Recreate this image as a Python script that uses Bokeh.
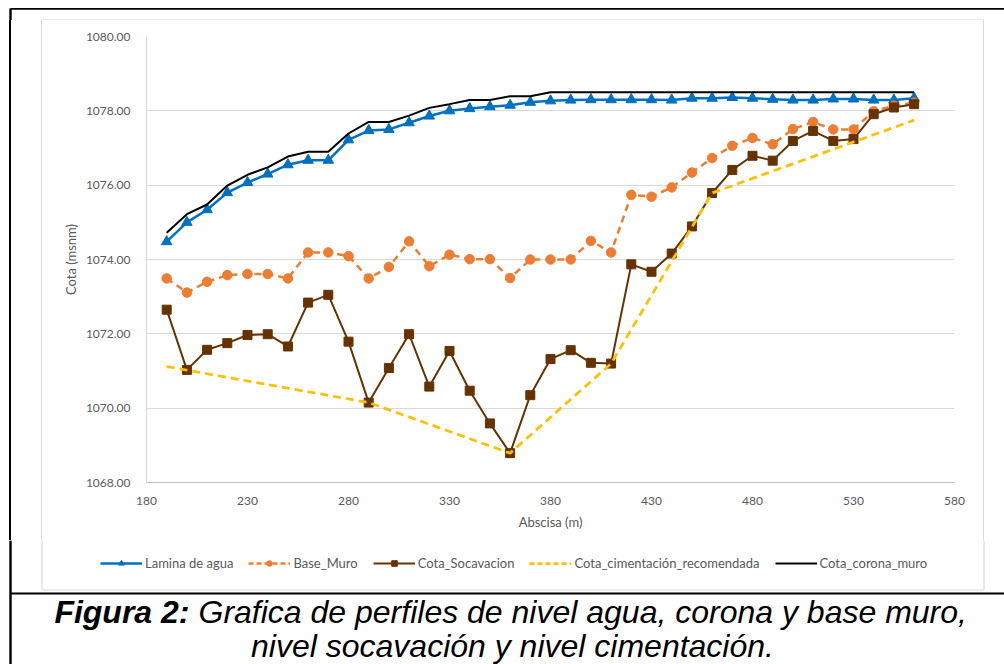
from bokeh.plotting import figure
from bokeh.layouts import column, row
from bokeh.models import (Range1d, FixedTicker, NumeralTickFormatter, Legend, LegendItem, Div)
from bokeh.core.properties import value
from bokeh.embed import file_html
from bokeh.resources import INLINE

# ---------------- data ----------------
abscisa = [190, 200, 210, 220, 230, 240, 250, 260, 270, 280,
           290, 300, 310, 320, 330, 340, 350, 360, 370, 380,
           390, 400, 410, 420, 430, 440, 450, 460, 470, 480,
           490, 500, 510, 520, 530, 540, 550, 560]

lamina_agua = [1074.48, 1075.00, 1075.34, 1075.80, 1076.07, 1076.30, 1076.55, 1076.67, 1076.67, 1077.22,
               1077.47, 1077.50, 1077.68, 1077.86, 1078.00, 1078.06, 1078.11, 1078.15, 1078.23, 1078.27,
               1078.29, 1078.30, 1078.30, 1078.30, 1078.30, 1078.29, 1078.34, 1078.34, 1078.36, 1078.34,
               1078.31, 1078.29, 1078.29, 1078.32, 1078.32, 1078.29, 1078.29, 1078.34]

base_muro = [1073.49, 1073.11, 1073.40, 1073.58, 1073.61, 1073.61, 1073.49, 1074.19, 1074.19, 1074.09,
             1073.49, 1073.80, 1074.49, 1073.82, 1074.13, 1074.01, 1074.01, 1073.50, 1074.00, 1074.00,
             1074.00, 1074.50, 1074.19, 1075.74, 1075.69, 1075.94, 1076.34, 1076.73, 1077.06, 1077.27,
             1077.10, 1077.51, 1077.70, 1077.50, 1077.50, 1077.99, 1078.14, 1078.22]

cota_socavacion = [1072.65, 1071.03, 1071.57, 1071.75, 1071.97, 1071.99, 1071.66, 1072.84, 1073.05, 1071.79,
                   1070.15, 1071.08, 1071.99, 1070.58, 1071.54, 1070.47, 1069.59, 1068.79, 1070.35, 1071.32,
                   1071.56, 1071.22, 1071.20, 1073.87, 1073.67, 1074.16, 1074.89, 1075.79, 1076.41, 1076.79,
                   1076.66, 1077.19, 1077.46, 1077.19, 1077.24, 1077.91, 1078.09, 1078.18]

cim_abscisa = [190, 290, 360, 410, 460, 560]
cota_cimentacion = [1071.12, 1070.15, 1068.79, 1071.20, 1075.79, 1077.75]

cota_corona = [1074.72, 1075.22, 1075.48, 1075.99, 1076.28, 1076.48, 1076.77, 1076.90, 1076.90, 1077.39,
               1077.70, 1077.70, 1077.87, 1078.08, 1078.18, 1078.29, 1078.29, 1078.39, 1078.39, 1078.50,
               1078.50, 1078.50, 1078.50, 1078.50, 1078.50, 1078.50, 1078.50, 1078.50, 1078.50, 1078.50,
               1078.50, 1078.50, 1078.50, 1078.50, 1078.50, 1078.50, 1078.50, 1078.50]

x_ticks = [180, 230, 280, 330, 380, 430, 480, 530, 580]
y_ticks = [1068, 1070, 1072, 1074, 1076, 1078, 1080]

series_names = ["Lamina de agua", "Base_Muro", "Cota_Socavacion",
                "Cota_cimentación_recomendada", "Cota_corona_muro"]

caption_bold = "Figura 2:"
caption_rest = "Grafica de perfiles de nivel agua, corona y base muro,"
caption_line2 = "nivel socavación y nivel cimentación."

# ---------------- page geometry ----------------
PW, PH = 1004, 664
TOP_H = 20
BOT_Y0 = 540
BOT_H = PH - BOT_Y0          # 124
LEFT_W = 42
RIGHT_W = 21
CH = BOT_Y0 - TOP_H          # 520
CW = PW - LEFT_W - RIGHT_W   # 941

TXT = "#595959"
SMALL = "Lato"
GRAY_BOX = "#D9D9D9"
BLUE, ORANGE, BROWN, YELLOW = "#0070C0", "#ED7D31", "#663300", "#FFC000"
NAN = float("nan")


def strip(width, height, x0, x1, y_top, y_bottom):
    f = figure(width=width, height=height, x_range=Range1d(x0, x1),
               y_range=Range1d(y_bottom, y_top), output_backend="svg",
               toolbar_location=None, x_axis_type=None, y_axis_type=None,
               min_border_left=0, min_border_right=0,
               min_border_top=0, min_border_bottom=0)
    f.outline_line_color = None
    f.xgrid.visible = False
    f.ygrid.visible = False
    f.background_fill_color = "white"
    f.border_fill_color = "white"
    return f


# ---------------- chart ----------------
p = figure(width=CW, height=CH, x_range=Range1d(180, 580), y_range=Range1d(1068, 1080),
           output_backend="svg", toolbar_location=None,
           min_border_left=104, min_border_right=29, min_border_top=16,
           min_border_bottom=CH - 16 - 446)
p.outline_line_color = None
p.background_fill_color = "white"
p.border_fill_color = "white"

p.xgrid.visible = False
p.ygrid.ticker = FixedTicker(ticks=y_ticks)
p.ygrid.grid_line_color = "#D9D9D9"
p.ygrid.grid_line_width = 1

p.xaxis.ticker = FixedTicker(ticks=x_ticks)
p.yaxis.ticker = FixedTicker(ticks=y_ticks)
p.yaxis.formatter = NumeralTickFormatter(format="0.00")
for ax in (p.xaxis, p.yaxis):
    ax.major_tick_line_color = None
    ax.minor_tick_line_color = None
    ax.major_label_text_color = TXT
    ax.major_label_text_font = SMALL
    ax.major_label_text_font_size = "12px"
    ax.axis_label_text_color = TXT
    ax.axis_label_text_font = SMALL
    ax.axis_label_text_font_size = "13px"
    ax.axis_label_text_font_style = "normal"
p.xaxis.axis_line_color = "#BFBFBF"
p.yaxis.axis_line_color = "#D9D9D9"
p.xaxis.major_label_standoff = 8
p.yaxis.major_label_standoff = 10
p.xaxis.axis_label = "Abscisa (m)"
p.yaxis.axis_label = "Cota (msnm)"
p.xaxis.axis_label_standoff = 6
p.yaxis.axis_label_standoff = 4

p.line(abscisa, lamina_agua, line_color=BLUE, line_width=2.5)
p.scatter(abscisa, lamina_agua, marker="triangle", size=10.5, fill_color=BLUE, line_color=BLUE)
p.line(abscisa, base_muro, line_color=ORANGE, line_width=2.5, line_dash="7 5")
p.scatter(abscisa, base_muro, marker="circle", size=9.5, fill_color=ORANGE, line_color=ORANGE)
p.line(abscisa, cota_socavacion, line_color=BROWN, line_width=2)
p.scatter(abscisa, cota_socavacion, marker="square", size=9, fill_color=BROWN, line_color=BROWN)
p.line(cim_abscisa, cota_cimentacion, line_color=YELLOW, line_width=2.75, line_dash="8 5")
p.line(abscisa, cota_corona, line_color="black", line_width=2)

# ---------------- frame pieces (page coordinates) ----------------
top = strip(PW, TOP_H, 0, PW, 0, TOP_H)
top.segment(x0=[10, 10, 41.5], y0=[8.4, 8, 19.5], x1=[PW, 10, 983.5], y1=[8.4, TOP_H, 19.5],
            line_color=["black", "black", GRAY_BOX], line_width=[1.6, 2.4, 1.2])
top.segment(x0=[41.5, 983.5], y0=[19.5, 19.5], x1=[41.5, 983.5], y1=[TOP_H, TOP_H],
            line_color=GRAY_BOX, line_width=1.2)

left = Div(text="", width=LEFT_W, height=CH, margin=0, styles={
    "background": "linear-gradient(to right, #ffffff 0px, #ffffff 9px, #000000 9px, "
                  "#000000 11px, #ffffff 11px, #ffffff 41px, #D9D9D9 41px, #D9D9D9 42px)"})
right = Div(text="", width=RIGHT_W, height=CH, margin=0, styles={
    "background": "linear-gradient(to right, #D9D9D9 0px, #D9D9D9 1px, #ffffff 1px, #ffffff 21px)"})

bot = strip(PW, BOT_H, 0, PW, BOT_Y0, PH)
bot.segment(x0=[41.5, 983.5, 41.5], y0=[BOT_Y0, BOT_Y0, 589.5], x1=[41.5, 983.5, 983.5],
            y1=[589.5, 589.5, 589.5], line_color=GRAY_BOX, line_width=1.2)
bot.segment(x0=[10, 10], y0=[593, BOT_Y0], x1=[PW, 10], y1=[593, PH],
            line_color="black", line_width=[2, 2.4])

# legend (invisible proxy glyphs sharing the styles of the chart series)
g1 = bot.line([NAN], [NAN], line_color=BLUE, line_width=2.5)
s1 = bot.scatter([NAN], [NAN], marker="triangle", size=10, fill_color=BLUE, line_color=BLUE)
g2 = bot.line([NAN], [NAN], line_color=ORANGE, line_width=2.5, line_dash="5 3")
s2 = bot.scatter([NAN], [NAN], marker="circle", size=9.5, fill_color=ORANGE, line_color=ORANGE)
g3 = bot.line([NAN], [NAN], line_color=BROWN, line_width=2)
s3 = bot.scatter([NAN], [NAN], marker="square", size=9, fill_color=BROWN, line_color=BROWN)
g4 = bot.line([NAN], [NAN], line_color=YELLOW, line_width=2.75, line_dash="5 3")
g5 = bot.line([NAN], [NAN], line_color="black", line_width=2)

legend = Legend(items=[
    LegendItem(label=series_names[0], renderers=[g1, s1]),
    LegendItem(label=series_names[1], renderers=[g2, s2]),
    LegendItem(label=series_names[2], renderers=[g3, s3]),
    LegendItem(label=series_names[3], renderers=[g4]),
    LegendItem(label=series_names[4], renderers=[g5]),
], orientation="horizontal", location=(100, 93))
legend.label_text_font = SMALL
legend.label_text_font_size = "13px"
legend.label_text_color = TXT
legend.glyph_width = 42
legend.glyph_height = 14
legend.label_height = 14
legend.label_standoff = 3
legend.spacing = 15
legend.padding = 0
legend.margin = 0
legend.border_line_color = None
legend.background_fill_alpha = 0
bot.add_layout(legend)

CAP_FONT = value("Liberation Sans")
CAP_SIZE = value("32px")
bot.text(x=[189], y=[611], text=[caption_bold], text_font=CAP_FONT, text_font_size=CAP_SIZE,
         text_font_style="bold italic", text_align="right", text_baseline="alphabetic",
         text_color="black")
bot.text(x=[198], y=[611], text=[caption_rest], text_font=CAP_FONT, text_font_size=CAP_SIZE,
         text_font_style="italic", text_align="left", text_baseline="alphabetic",
         text_color="black")
bot.text(x=[512], y=[645], text=[caption_line2], text_font=CAP_FONT, text_font_size=CAP_SIZE,
         text_font_style="italic", text_align="center", text_baseline="alphabetic",
         text_color="black")

layout = column(top, row(left, p, right), bot)

open("out.html", "w").write(file_html(layout, INLINE))
